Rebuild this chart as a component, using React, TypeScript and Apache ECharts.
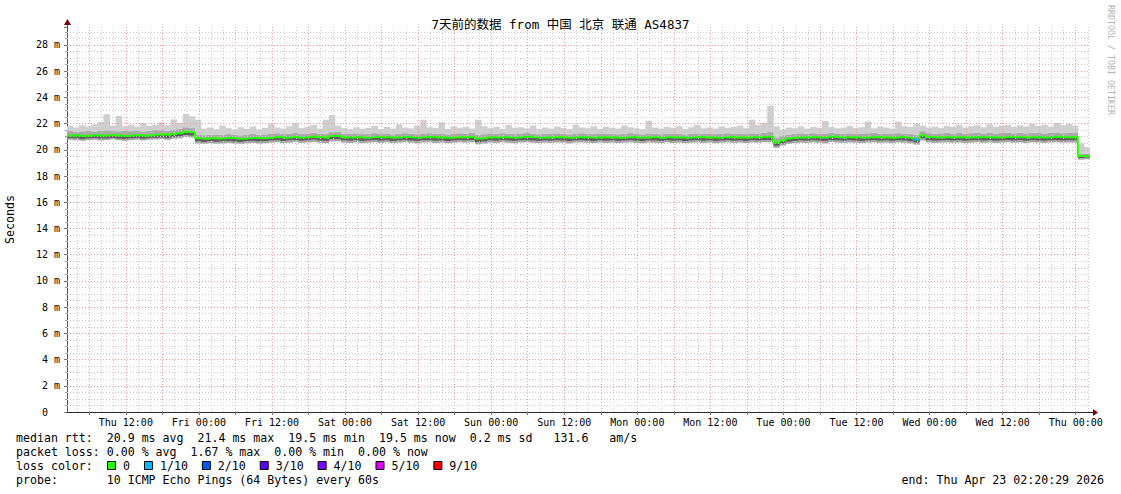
import React, { useEffect, useRef } from 'react';
import * as echarts from 'echarts';

const FONT = "'DejaVu Sans Mono', 'Noto Sans CJK SC', monospace";
const TITLE = '7天前的数据 from 中国 北京 联通 AS4837';

// hours after Thu Apr 16 00:00 (graph spans 7 days ending Thu Apr 23 02:20:29)
const START_H = 2 + 20 / 60 + 29 / 3600;
const END_H = START_H + 168;
const DAY_NAMES = ['Thu', 'Fri', 'Sat', 'Sun', 'Mon', 'Tue', 'Wed', 'Thu'];
const X_LABEL_HOURS = [12, 24, 36, 48, 60, 72, 84, 96, 108, 120, 132, 144, 156, 168];
const X_MAJOR_HOURS = [6, 12, 18, 24, 30, 36, 42, 48, 54, 60, 66, 72, 78, 84, 90, 96, 102, 108, 114, 120, 126, 132, 138, 144, 150, 156, 162, 168];
const X_MINOR_HOURS = [4, 8, 10, 14, 16, 20, 22, 26, 28, 32, 34, 38, 40, 44, 46, 50, 52, 56, 58, 62, 64, 68, 70, 74, 76, 80, 82, 86, 88, 92, 94, 98, 100, 104, 106, 110, 112, 116, 118, 122, 124, 128, 130, 134, 136, 140, 142, 146, 148, 152, 154, 158, 160, 164, 166, 170];
const Y_MAJOR = [2, 4, 6, 8, 10, 12, 14, 16, 18, 20, 22, 24, 26, 28];
const Y_MINOR = [0.5, 1, 1.5, 2.5, 3, 3.5, 4.5, 5, 5.5, 6.5, 7, 7.5, 8.5, 9, 9.5, 10.5, 11, 11.5, 12.5, 13, 13.5, 14.5, 15, 15.5, 16.5, 17, 17.5, 18.5, 19, 19.5, 20.5, 21, 21.5, 22.5, 23, 23.5, 24.5, 25, 25.5, 26.5, 27, 27.5, 28.5, 29];
const Y_MAX = 29.37;

// hourly samples (ms); sample i covers the hour ending at START_H + i
const medianRtt = [
  21.08, 21.12, 21.10, 21.06, 21.10, 21.13, 21.08, 21.11, 21.15, 21.09,
  21.06, 21.11, 21.13, 21.08, 21.12, 21.16, 21.18, 21.13, 21.21, 21.27,
  21.38, 21.33, 20.88, 20.85, 20.90, 20.86, 20.88, 20.92, 20.87, 20.85,
  20.89, 20.93, 20.88, 20.90, 20.95, 20.98, 20.93, 20.96, 21.00, 20.94,
  20.97, 21.02, 20.95, 20.93, 21.06, 21.08, 20.96, 20.94, 20.98, 20.93,
  20.95, 20.99, 20.94, 20.97, 20.92, 20.96, 20.99, 20.95, 20.93, 20.97,
  20.98, 20.94, 20.96, 20.92, 20.95, 20.98, 20.96, 21.00, 20.86, 20.90,
  20.96, 20.94, 20.98, 20.95, 20.93, 20.97, 20.99, 20.95, 20.93, 20.96,
  20.94, 20.97, 20.95, 20.92, 20.96, 20.98, 20.95, 20.93, 20.97, 20.94,
  20.96, 20.93, 20.95, 20.98, 20.94, 20.92, 20.96, 20.95, 20.93, 20.97,
  20.94, 20.96, 20.92, 20.95, 20.97, 20.94, 20.96, 20.93, 20.95, 20.98,
  20.94, 20.96, 20.93, 20.97, 20.95, 20.99, 21.00, 20.55, 20.72, 20.86,
  20.93, 20.96, 20.94, 20.97, 20.95, 20.93, 21.00, 20.96, 20.94, 20.97,
  20.95, 20.93, 20.96, 20.98, 20.94, 20.96, 20.93, 20.97, 20.95, 20.90,
  20.80, 21.12, 20.97, 20.94, 20.96, 20.98, 20.95, 20.97, 20.94, 20.96,
  20.98, 20.95, 20.97, 20.94, 20.96, 20.99, 20.95, 20.97, 20.94, 20.98,
  20.96, 20.94, 20.97, 20.99, 20.95, 20.97, 20.96, 19.52, 19.50,
];
const minPing = [
  20.74, 20.76, 20.73, 20.70, 20.75, 20.77, 20.72, 20.75, 20.79, 20.73,
  20.70, 20.74, 20.77, 20.72, 20.76, 20.79, 20.81, 20.76, 20.84, 20.88,
  20.98, 20.94, 20.48, 20.45, 20.50, 20.46, 20.48, 20.52, 20.47, 20.44,
  20.49, 20.53, 20.47, 20.50, 20.55, 20.58, 20.52, 20.55, 20.60, 20.54,
  20.56, 20.61, 20.54, 20.52, 20.64, 20.66, 20.55, 20.53, 20.57, 20.52,
  20.54, 20.58, 20.53, 20.56, 20.51, 20.55, 20.58, 20.54, 20.49, 20.56,
  20.57, 20.53, 20.55, 20.51, 20.54, 20.57, 20.55, 20.59, 20.42, 20.48,
  20.55, 20.53, 20.57, 20.54, 20.50, 20.56, 20.58, 20.54, 20.52, 20.55,
  20.53, 20.56, 20.54, 20.48, 20.55, 20.57, 20.54, 20.52, 20.56, 20.53,
  20.55, 20.52, 20.54, 20.57, 20.53, 20.50, 20.55, 20.54, 20.52, 20.56,
  20.53, 20.55, 20.51, 20.54, 20.56, 20.53, 20.55, 20.50, 20.54, 20.57,
  20.53, 20.55, 20.52, 20.56, 20.54, 20.58, 20.59, 20.15, 20.32, 20.45,
  20.52, 20.55, 20.53, 20.56, 20.54, 20.49, 20.59, 20.55, 20.53, 20.56,
  20.54, 20.52, 20.55, 20.57, 20.53, 20.55, 20.50, 20.56, 20.54, 20.49,
  20.40, 20.71, 20.56, 20.53, 20.55, 20.57, 20.54, 20.56, 20.51, 20.55,
  20.57, 20.54, 20.56, 20.53, 20.55, 20.58, 20.54, 20.56, 20.53, 20.57,
  20.55, 20.53, 20.56, 20.58, 20.54, 20.56, 20.55, 19.25, 19.28,
];
const lowPing = [
  20.85, 20.88, 20.86, 20.82, 20.86, 20.88, 20.84, 20.87, 20.90, 20.85,
  20.82, 20.87, 20.89, 20.84, 20.88, 20.91, 20.93, 20.89, 20.96, 21.02,
  21.12, 21.08, 20.63, 20.60, 20.65, 20.61, 20.63, 20.67, 20.62, 20.60,
  20.64, 20.68, 20.63, 20.65, 20.70, 20.73, 20.68, 20.71, 20.75, 20.69,
  20.72, 20.77, 20.70, 20.68, 20.80, 20.82, 20.71, 20.69, 20.73, 20.68,
  20.70, 20.74, 20.69, 20.72, 20.67, 20.71, 20.74, 20.70, 20.68, 20.72,
  20.73, 20.69, 20.71, 20.67, 20.70, 20.73, 20.71, 20.75, 20.58, 20.64,
  20.71, 20.69, 20.73, 20.70, 20.68, 20.72, 20.74, 20.70, 20.68, 20.71,
  20.69, 20.72, 20.70, 20.67, 20.71, 20.73, 20.70, 20.68, 20.72, 20.69,
  20.71, 20.68, 20.70, 20.73, 20.69, 20.67, 20.71, 20.70, 20.68, 20.72,
  20.69, 20.71, 20.67, 20.70, 20.72, 20.69, 20.71, 20.68, 20.70, 20.73,
  20.69, 20.71, 20.68, 20.72, 20.70, 20.74, 20.75, 20.30, 20.47, 20.61,
  20.68, 20.71, 20.69, 20.72, 20.70, 20.68, 20.75, 20.71, 20.69, 20.72,
  20.70, 20.68, 20.71, 20.73, 20.69, 20.71, 20.68, 20.72, 20.70, 20.65,
  20.55, 20.87, 20.72, 20.69, 20.71, 20.73, 20.70, 20.72, 20.69, 20.71,
  20.73, 20.70, 20.72, 20.69, 20.71, 20.74, 20.70, 20.72, 20.69, 20.73,
  20.71, 20.69, 20.72, 20.74, 20.70, 20.72, 20.71, 19.38, 19.40,
];
const highPing = [
  21.40, 21.45, 21.38, 21.42, 21.47, 21.40, 21.44, 21.50, 21.43, 21.41,
  21.46, 21.42, 21.48, 21.40, 21.45, 21.52, 21.50, 21.47, 21.55, 21.62,
  21.72, 21.66, 21.18, 21.12, 21.16, 21.13, 21.15, 21.20, 21.14, 21.11,
  21.17, 21.22, 21.15, 21.18, 21.24, 21.27, 21.20, 21.23, 21.28, 21.21,
  21.25, 21.30, 21.22, 21.20, 21.35, 21.38, 21.23, 21.21, 21.26, 21.20,
  21.22, 21.27, 21.20, 21.25, 21.18, 21.23, 21.27, 21.22, 21.19, 21.25,
  21.27, 21.21, 21.24, 21.18, 21.22, 21.26, 21.23, 21.28, 21.15, 21.19,
  21.25, 21.22, 21.27, 21.23, 21.20, 21.25, 21.28, 21.22, 21.19, 21.24,
  21.21, 21.26, 21.23, 21.18, 21.24, 21.27, 21.22, 21.20, 21.25, 21.21,
  21.24, 21.19, 21.22, 21.27, 21.21, 21.18, 21.24, 21.22, 21.19, 21.25,
  21.21, 21.24, 21.18, 21.22, 21.26, 21.21, 21.24, 21.20, 21.22, 21.27,
  21.21, 21.25, 21.20, 21.26, 21.23, 21.30, 21.40, 20.95, 21.05, 21.15,
  21.22, 21.26, 21.23, 21.27, 21.24, 21.21, 21.30, 21.25, 21.22, 21.26,
  21.24, 21.21, 21.26, 21.29, 21.22, 21.25, 21.21, 21.27, 21.24, 21.20,
  21.15, 21.42, 21.27, 21.23, 21.26, 21.29, 21.24, 21.28, 21.23, 21.27,
  21.30, 21.25, 21.29, 21.24, 21.28, 21.32, 21.26, 21.30, 21.25, 21.31,
  21.28, 21.25, 21.30, 21.33, 21.27, 21.30, 21.28, 19.70, 19.72,
];
const maxPing = [
  21.75, 21.82, 21.70, 21.88, 21.78, 21.95, 22.15, 22.72, 21.85, 22.60,
  21.80, 21.92, 21.76, 22.05, 21.84, 21.90, 22.10, 21.88, 22.32, 22.05,
  22.75, 22.55, 22.30, 21.62, 21.70, 21.58, 21.85, 21.65, 21.55, 21.72,
  21.60, 21.78, 21.56, 21.68, 21.95, 21.70, 21.62, 21.80, 22.05, 21.66,
  21.74, 21.90, 21.62, 22.30, 22.65, 21.85, 21.66, 21.58, 21.72, 21.60,
  21.68, 21.82, 21.57, 21.75, 21.62, 21.95, 21.70, 21.64, 21.86, 22.30,
  21.72, 21.66, 22.10, 21.60, 21.78, 21.68, 21.74, 21.62, 22.30, 21.80,
  21.65, 21.75, 21.60, 21.90, 21.68, 21.72, 21.64, 21.85, 21.60, 21.70,
  21.62, 21.78, 21.66, 21.58, 21.92, 21.70, 21.65, 21.80, 21.60, 21.74,
  21.68, 21.62, 21.85, 21.72, 21.64, 21.58, 22.20, 21.70, 21.62, 21.76,
  21.66, 21.80, 21.60, 21.72, 21.90, 21.64, 21.70, 21.62, 21.78, 21.68,
  21.74, 21.85, 21.64, 22.30, 21.90, 22.05, 23.35, 21.80, 21.55, 21.70,
  21.65, 21.80, 21.62, 21.74, 21.68, 22.20, 21.75, 21.64, 21.70, 21.82,
  21.66, 21.72, 22.15, 21.64, 21.78, 21.70, 21.62, 22.15, 21.80, 21.75,
  22.00, 21.85, 21.70, 21.78, 21.66, 21.82, 21.74, 21.92, 21.70, 21.80,
  21.88, 21.72, 21.95, 21.76, 21.84, 21.90, 21.74, 21.86, 21.78, 22.00,
  21.82, 21.90, 21.76, 22.05, 21.88, 22.00, 21.85, 20.50, 20.20,
];
// samples with packet loss (index, lost pings out of 10)
const lossIndex = [140];
const lossCount = [1];

const LOSS_COLORS = ['#26ff00', '#00b8ff', '#0059ff', '#5e00ff', '#7e00ff', '#dd00ff', '#ff0000'];
const LOSS_LABELS = ['0', '1/10', '2/10', '3/10', '4/10', '5/10', '9/10'];
const LOSS_LEVEL = [0, 1, 2, 3, 4, 5, 9];
const SMOKE_COLORS = ['#a6a6a6', '#5c5c5c', '#a8a8a8', '#cfcfcf'];

const LEGEND_LINES = [
  'median rtt:  20.9 ms avg  21.4 ms max  19.5 ms min  19.5 ms now  0.2 ms sd   131.6   am/s',
  'packet loss: 0.00 % avg  1.67 % max  0.00 % min  0.00 % now',
  'loss color:',
  'probe:       10 ICMP Echo Pings (64 Bytes) every 60s',
];
const END_TEXT = 'end: Thu Apr 23 02:20:29 2026';
const CREDIT = 'RRDTOOL / TOBI OETIKER';

const nb = (s: string) => s.replace(/ /g, '\u00a0');

function buildOption() {
  const hours = medianRtt.map((_, i) => START_H + i);
  const pts = (arr: number[]) => arr.map((v, i) => [hours[i], v]);

  const smokeData = medianRtt.map((m, i) => [
    Math.max(START_H, hours[i] - 1), hours[i], minPing[i], lowPing[i], m, highPing[i], maxPing[i],
  ]);

  const lossSeg: any[] = [];
  lossIndex.forEach((k, j) => {
    const c = LOSS_COLORS[Math.max(0, LOSS_LEVEL.indexOf(lossCount[j]))];
    lossSeg.push({
      type: 'line', z: 6, symbol: 'none', silent: true,
      lineStyle: { color: c, width: 2 },
      data: [[hours[k - 1], medianRtt[k]], [hours[k], medianRtt[k]]],
    });
  });

  const gridLines: any[] = [
    ...X_MINOR_HOURS.map((h) => ({ xAxis: h, lineStyle: { color: '#cdcdcd', type: [1, 2], width: 1 } })),
    ...Y_MINOR.map((v) => ({ yAxis: v, lineStyle: { color: '#cdcdcd', type: [1, 2], width: 1 } })),
    ...X_MAJOR_HOURS.map((h) => ({ xAxis: h, lineStyle: { color: '#f19c9c', type: [1, 2], width: 1 } })),
    ...Y_MAJOR.map((v) => ({ yAxis: v, lineStyle: { color: '#f19c9c', type: [1, 2], width: 1 } })),
  ];

  const legendY = [438, 452, 466, 480];
  const graphics: any[] = [];
  LEGEND_LINES.forEach((t, i) => {
    graphics.push({
      type: 'text', x: 16, y: legendY[i], silent: true,
      style: { text: nb(t), font: `11.6px ${FONT}`, fill: '#000', textVerticalAlign: 'middle', textAlign: 'left' },
    });
  });
  let bx = 107;
  LOSS_LABELS.forEach((lab, i) => {
    graphics.push({
      type: 'rect', silent: true, shape: { x: bx + 0.5, y: 461.5, width: 8, height: 8 },
      style: { fill: LOSS_COLORS[i], stroke: '#000', lineWidth: 1 },
    });
    graphics.push({
      type: 'text', x: bx + 16, y: 466, silent: true,
      style: { text: lab, font: `11.6px ${FONT}`, fill: '#000', textVerticalAlign: 'middle' },
    });
    bx = bx + 16 + lab.length * 6.97 + 14;
  });
  graphics.push({
    type: 'text', x: 1104, y: 480, silent: true,
    style: { text: nb(END_TEXT), font: `11.6px ${FONT}`, fill: '#000', textVerticalAlign: 'middle', textAlign: 'right' },
  });
  graphics.push({
    type: 'text', x: 1111, y: 5, rotation: -Math.PI / 2, silent: true,
    style: { text: nb(CREDIT), font: `8.3px ${FONT}`, fill: '#b4b4b4', textVerticalAlign: 'middle', textAlign: 'left' },
  });
  // axis arrows
  graphics.push({ type: 'line', silent: true, shape: { x1: 1090, y1: 412.5, x2: 1094, y2: 412.5 }, style: { stroke: '#2c2c2c', lineWidth: 1 } });
  graphics.push({ type: 'polygon', silent: true, shape: { points: [[1093, 409], [1098, 412.5], [1093, 416]] }, style: { fill: '#7f0000' } });
  graphics.push({ type: 'line', silent: true, shape: { x1: 67.5, y1: 27, x2: 67.5, y2: 23 }, style: { stroke: '#555', lineWidth: 1 } });
  graphics.push({ type: 'polygon', silent: true, shape: { points: [[64, 25], [67.5, 19], [71, 25]] }, style: { fill: '#7f0000' } });

  return {
    animation: false,
    backgroundColor: '#ffffff',
    textStyle: { fontFamily: FONT },
    title: {
      text: TITLE, left: 'center', top: 13,
      textStyle: { fontFamily: FONT, fontSize: 12.5, fontWeight: 'normal', color: '#000' },
    },
    grid: { left: 67, right: 31, top: 27, bottom: 82, containLabel: false, outerBoundsMode: 'none' },
    xAxis: {
      type: 'value', min: START_H, max: END_H,
      axisLine: { show: true, onZero: false, lineStyle: { color: '#2c2c2c', width: 1 } },
      axisTick: { show: true, customValues: X_MAJOR_HOURS, length: 3, lineStyle: { color: '#777' } },
      axisLabel: {
        show: true, customValues: X_LABEL_HOURS, margin: 5,
        fontFamily: FONT, fontSize: 10, color: '#000',
        formatter: (v: number) => {
          const d = Math.floor(v / 24 + 1e-6);
          const hh = Math.round(v - d * 24);
          return `${DAY_NAMES[d]} ${String(hh).padStart(2, '0')}:00`;
        },
      },
      splitLine: { show: false },
    },
    yAxis: {
      type: 'value', min: 0, max: Y_MAX, interval: 2,
      name: 'Seconds', nameLocation: 'middle', nameGap: 51, nameRotate: 90,
      nameTextStyle: { fontFamily: FONT, fontSize: 11.6, color: '#000' },
      axisLine: { show: true, lineStyle: { color: '#555', width: 1 } },
      axisTick: { show: true, length: 3, lineStyle: { color: '#777' } },
      minorTick: { show: true, splitNumber: 4, length: 2, lineStyle: { color: '#999' } },
      axisLabel: {
        margin: 7, fontFamily: FONT, fontSize: 10, color: '#000', showMaxLabel: false,
        formatter: (v: number) => (v === 0 ? '0\u00a0\u00a0' : `${v} m`),
      },
      splitLine: { show: false },
      minorSplitLine: { show: false },
    },
    series: [
      {
        type: 'line', name: 'grid', data: [], z: 1, silent: true, symbol: 'none',
        markLine: { silent: true, symbol: ['none', 'none'], label: { show: false }, animation: false, data: gridLines },
      },
      {
        type: 'custom', name: 'smoke', z: 3, silent: true, clip: true,
        encode: { x: [0, 1], y: [2, 3, 4, 5, 6] },
        data: smokeData,
        renderItem: (params: any, api: any) => {
          const x0 = api.value(0);
          const x1 = api.value(1);
          const lv = [api.value(2), api.value(3), api.value(4), api.value(5), api.value(6)];
          const children: any[] = [];
          for (let k = 0; k < 4; k++) {
            const pTop = api.coord([x0, lv[k + 1]]);
            const pBot = api.coord([x1, lv[k]]);
            children.push({
              type: 'rect',
              shape: { x: pTop[0], y: pTop[1], width: pBot[0] - pTop[0] + 0.4, height: pBot[1] - pTop[1] },
              style: { fill: SMOKE_COLORS[k] },
            });
          }
          return { type: 'group', children };
        },
      },
      {
        type: 'line', name: 'median', step: 'start', symbol: 'none', silent: true, z: 5,
        lineStyle: { color: '#26ff00', width: 2 },
        data: pts(medianRtt),
      },
      ...lossSeg,
    ],
    graphic: graphics,
  };
}

export default function App() {
  const ref = useRef<HTMLDivElement>(null);
  useEffect(() => {
    const chart = echarts.init(ref.current!, null, { renderer: 'svg' });
    chart.setOption(buildOption() as any);
    return () => chart.dispose();
  }, []);
  return (
    <div
      ref={ref}
      style={{ position: 'fixed', left: 0, top: 0, width: 1121, height: 494, background: '#fff' }}
    />
  );
}
